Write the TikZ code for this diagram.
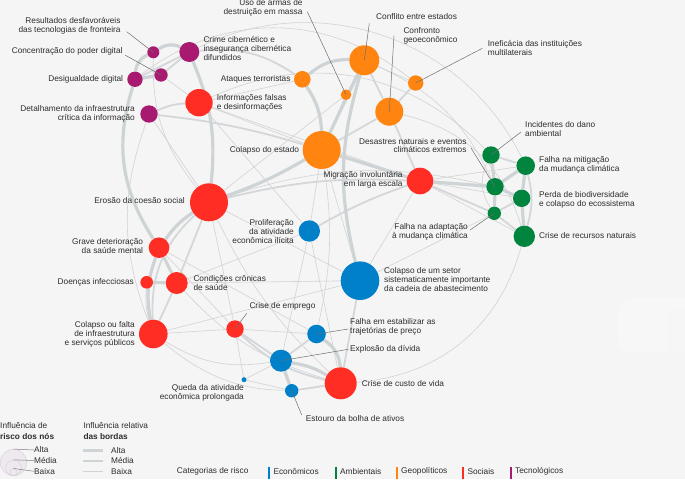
\documentclass[tikz,border=0pt]{standalone}
\usepackage{fontspec}
\setmainfont{Liberation Sans}
\pgfdeclarelayer{bg}
\pgfdeclarelayer{edges}
\pgfsetlayers{bg,edges,main}
\definecolor{bgc}{RGB}{245,245,245}
\definecolor{wmk}{RGB}{247,247,247}
\definecolor{tec}{RGB}{168,26,112}
\definecolor{soc}{RGB}{255,45,35}
\definecolor{geo}{RGB}{255,132,16}
\definecolor{eco}{RGB}{0,128,201}
\definecolor{env}{RGB}{0,132,62}
\definecolor{edgeA}{RGB}{206,211,214}
\definecolor{edgeB}{RGB}{212,215,218}
\definecolor{edgeC}{RGB}{210,210,210}
\definecolor{leadc}{RGB}{110,110,110}
\definecolor{txt}{RGB}{45,45,45}
\newcommand\lf{\fontsize{8.3}{8.9}\selectfont}
\tikzset{
  nd/.style={circle, inner sep=0pt, draw=none},
  ethick/.style={draw=edgeA, line width=3.2pt},
  emed/.style={draw=edgeB, line width=1.8pt},
  ethin/.style={draw=edgeC, line width=0.6pt},
  leader/.style={draw=leadc, line width=0.5pt},
  lbl/.style={font=\lf, text=txt, inner sep=0pt},
  lgline/.style={draw=edgeA},
  catbar/.style={line width=2.3pt},
}
\begin{document}
\begin{tikzpicture}[x=1pt,y=-1pt]
\useasboundingbox (0,0) rectangle (685,479);
\begin{pgfonlayer}{bg}
\fill[bgc] (0,0) rectangle (685,479);
\begin{scope}
\clip (0,0) rectangle (685,479);
\fill[wmk, rounded corners=14pt] (618,298) rectangle (700,353);
\fill[bgc!60!wmk] (666.7,309) rectangle (690,353);
\end{scope}
\end{pgfonlayer}

% ---------- nodes ----------
% technological
\node[nd, fill=tec, minimum size=12pt]   (res) at (153.3,52.3) {};
\node[nd, fill=tec, minimum size=20pt]   (cri) at (189.3,52) {};
\node[nd, fill=tec, minimum size=13.4pt] (con) at (161,75) {};
\node[nd, fill=tec, minimum size=15.4pt] (des) at (135,79.3) {};
\node[nd, fill=tec, minimum size=17.4pt] (det) at (149,114) {};
% social
\node[nd, fill=soc, minimum size=27.4pt] (inf) at (199,102.7) {};
\node[nd, fill=soc, minimum size=38pt]   (ero) at (209,202.3) {};
\node[nd, fill=soc, minimum size=20.6pt] (gra) at (159,247.7) {};
\node[nd, fill=soc, minimum size=12.6pt] (doe) at (146.7,282.3) {};
\node[nd, fill=soc, minimum size=22pt]   (cond) at (176.7,283) {};
\node[nd, fill=soc, minimum size=28.6pt] (colf) at (153.3,334) {};
\node[nd, fill=soc, minimum size=17.4pt] (emp) at (235,329) {};
\node[nd, fill=soc, minimum size=32pt]   (cus) at (340.7,383.3) {};
\node[nd, fill=soc, minimum size=26.6pt] (mig) at (420,181) {};
% geopolitical
\node[nd, fill=geo, minimum size=30pt]   (cnf) at (364.3,60.3) {};
\node[nd, fill=geo, minimum size=16.6pt] (ata) at (302.3,79.3) {};
\node[nd, fill=geo, minimum size=10.6pt] (uso) at (346,94.7) {};
\node[nd, fill=geo, minimum size=15.4pt] (ine) at (415.7,83) {};
\node[nd, fill=geo, minimum size=28pt]   (cge) at (389.3,111.7) {};
\node[nd, fill=geo, minimum size=38pt]   (cest) at (321.7,150) {};
% economic
\node[nd, fill=eco, minimum size=21.4pt] (pro) at (309.3,231) {};
\node[nd, fill=eco, minimum size=38.6pt] (cset) at (360,280.7) {};
\node[nd, fill=eco, minimum size=18.6pt] (fes) at (316.5,334) {};
\node[nd, fill=eco, minimum size=22pt]   (exp) at (281,360.7) {};
\node[nd, fill=eco, minimum size=5pt]    (que) at (244,379.7) {};
\node[nd, fill=eco, minimum size=13.4pt] (est) at (291.7,390.7) {};
% environmental
\node[nd, fill=env, minimum size=17.4pt] (inc) at (491,155) {};
\node[nd, fill=env, minimum size=18.6pt] (fmi) at (525.7,165.7) {};
\node[nd, fill=env, minimum size=17.4pt] (dna) at (495,186.7) {};
\node[nd, fill=env, minimum size=17.4pt] (per) at (521.7,198.3) {};
\node[nd, fill=env, minimum size=13.4pt] (fad) at (494.3,213.3) {};
\node[nd, fill=env, minimum size=21.4pt] (rec) at (524.3,236.3) {};

% ---------- edges ----------
\begin{pgfonlayer}{edges}
% thin
\draw[ethin] (cri) to[bend left=45] (fmi);
\draw[ethin] (inf) to[bend left=35] (inc);
\draw[ethin] (des) to[bend left=38] (ine);
\draw[ethin] (inf) -- (mig);
\draw[ethin] (inf) -- (cest);
\draw[ethin] (inf) -- (pro);
\draw[ethin] (ata) -- (inf);
\draw[ethin] (uso) -- (cnf);
\draw[ethin] (uso) -- (cest);
\draw[ethin] (uso) -- (ero);
\draw[ethin] (cnf) -- (ine);
\draw[ethin] (cnf) to[bend left=20] (dna);
\draw[ethin] (cge) to[bend left=30] (rec);
\draw[ethin] (cset) -- (mig);
\draw[ethin] (cus) to[bend right=35] (rec);
\draw[ethin] (cond) -- (cset);
\draw[ethin] (colf) -- (cset);
\draw[ethin] (colf) to[bend right=20] (exp);
\draw[ethin] (colf) to[bend right=25] (cus);
\draw[ethin] (colf) -- (emp);
\draw[ethin] (gra) -- (fes);
\draw[ethin] (pro) -- (cus);
\draw[ethin] (pro) -- (exp);
\draw[ethin] (ero) -- (cset);
\draw[ethin] (cest) -- (pro);
\draw[ethin] (cest) -- (cset);
\draw[ethin] (emp) -- (que);
\draw[ethin] (que) -- (exp);
\draw[ethin] (que) -- (est);
\draw[ethin] (doe) -- (gra);
\draw[ethin] (doe) to[bend right=10] (colf);
\draw[ethin] (ero) -- (emp);
\draw[ethin] (emp) -- (fes);
\draw[ethin] (det) -- (ero);
\draw[ethin] (det) to[bend right=20] (colf);
\draw[ethin] (mig) -- (rec);
\draw[ethin] (mig) -- (fmi);
\draw[ethin] (mig) -- (per);
\draw[ethin] (cset) -- (fad);
\draw[ethin] (ero) to[bend left=15] (dna);
\draw[ethin] (gra) -- (emp);
\draw[ethin] (cond) to[bend right=15] (cus);
\draw[ethin] (inc) to[bend right=30] (fad);
\draw[ethin] (res) to[bend right=20] (ero);
\draw[ethin] (con) -- (inf);
\draw[ethin] (cond) -- (pro);
\draw[ethin] (cest) to[bend left=10] (fes);
\draw[ethin] (ero) to[bend right=10] (cus);
% medium
\draw[emed] (cri) to[bend left=20] (ata);
\draw[emed] (cge) -- (cest);
\draw[emed] (cge) -- (cnf);
\draw[emed] (ine) -- (cge);
\draw[emed] (ero) to[bend left=8] (mig);
\draw[emed] (pro) to[bend left=5] (mig);
\draw[emed] (cset) -- (cus);
\draw[emed] (emp) -- (exp);
\draw[emed] (emp) to[bend right=15] (cus);
\draw[emed] (colf) -- (cond);
\draw[emed] (cond) -- (ero);
\draw[emed] (mig) -- (fad);
\draw[emed] (cge) -- (mig);
\draw[emed] (est) -- (cus);
\draw[emed] (exp) -- (fes);
\draw[emed] (det) to[bend left=5] (cest);
\draw[emed] (det) to[bend left=10] (inf);
\draw[emed] (fmi) to[bend left=15] (rec);
\draw[emed] (fad) -- (rec);
\draw[emed] (inc) -- (fmi);
\draw[emed] (fad) -- (per);
\draw[emed] (ero) to[bend right=25] (colf);
\draw[emed] (des) -- (cri);
\draw[emed] (con) -- (cri);
% thick
\draw[ethick] (cri) to[bend left=14] (ero);
\draw[ethick] (des) to[bend right=25] (gra);
\draw[ethick] (gra) to[bend right=15] (colf);
\draw[ethick] (ero) to[bend right=10] (gra);
\draw[ethick] (gra) -- (cond);
\draw[ethick] (doe) -- (cond);
\draw[ethick] (des) -- (con);
\draw[ethick] (res) to[bend right=30] (des);
\draw[ethick] (res) to[bend left=30] (cri);
\draw[ethick] (cest) to[bend left=5] (ero);
\draw[ethick] (cest) -- (cnf);
\draw[ethick] (ata) to[bend left=20] (cnf);
\draw[ethick] (ata) to[bend left=15] (cest);
\draw[ethick] (cnf) to[bend right=15] (cset);
\draw[ethick] (cest) -- (mig);
\draw[ethick] (mig) -- (dna);
\draw[ethick] (fes) to[bend left=25] (cus);
\draw[ethick] (exp) to[bend left=10] (cus);
\draw[ethick] (exp) -- (est);
\draw[ethick] (inc) -- (dna);
\draw[ethick] (dna) -- (fmi);
\draw[ethick] (dna) -- (per);
\draw[ethick] (fmi) -- (per);
\draw[ethick] (per) -- (rec);
\draw[ethick] (fad) -- (dna);
\end{pgfonlayer}

% ---------- labels ----------
\node[lbl, anchor=east, align=right] (Lres) at (120.7,25.8) {Resultados desfavoráveis\\das tecnologias de fronteira};
\node[lbl, anchor=east] (Lcon) at (122.7,51.7) {Concentração do poder digital};
\node[lbl, anchor=east] (Ldes) at (123.3,79) {Desigualdade digital};
\node[lbl, anchor=east, align=right] (Ldet) at (135,113.7) {Detalhamento da infraestrutura\\crítica da informação};
\node[lbl, anchor=west, align=left] (Lcri) at (203.3,48.7) {Crime cibernético e\\insegurança cibernética\\difundidos};
\node[lbl, anchor=west, align=left] (Linf) at (216.7,102.8) {Informações falsas\\e desinformações};
\node[lbl, anchor=east, align=right] (Luso) at (302.7,7.8) {Uso de armas de\\destruição em massa};
\node[lbl, anchor=west] (Lcnf) at (376,16.7) {Conflito entre estados};
\node[lbl, anchor=west, align=left] (Lcge) at (403.3,35.5) {Confronto\\geoeconômico};
\node[lbl, anchor=west, align=left] (Line) at (487.7,47.7) {Ineficácia das instituições\\multilaterais};
\node[lbl, anchor=east] (Lata) at (290.7,79.3) {Ataques terroristas};
\node[lbl, anchor=east] (Lcest) at (299.3,150) {Colapso do estado};
\node[lbl, anchor=east, align=right] (Ldna) at (466.7,145.5) {Desastres naturais e eventos\\climáticos extremos};
\node[lbl, anchor=east, align=right] (Lmig) at (402.7,180) {Migração involuntária\\em larga escala};
\node[lbl, anchor=west, align=left] (Linc) at (525,129.3) {Incidentes do dano\\ambiental};
\node[lbl, anchor=west, align=left] (Lfmi) at (539,165) {Falha na mitigação\\da mudança climática};
\node[lbl, anchor=west, align=left] (Lper) at (539,200) {Perda de biodiversidade\\e colapso do ecossistema};
\node[lbl, anchor=west] (Lrec) at (539,236) {Crise de recursos naturais};
\node[lbl, anchor=east, align=right] (Lfad) at (468,231.5) {Falha na adaptação\\à mudança climática};
\node[lbl, anchor=east] (Lero) at (185,201) {Erosão da coesão social};
\node[lbl, anchor=east, align=right] (Lgra) at (143.3,246.2) {Grave deterioração\\da saúde mental};
\node[lbl, anchor=east] (Ldoe) at (134,282) {Doenças infecciosas};
\node[lbl, anchor=west, align=left] (Lcond) at (193.3,283) {Condições crônicas\\de saúde};
\node[lbl, anchor=east, align=right] (Lcolf) at (135,334) {Colapso ou falta\\de infraestrutura\\e serviços públicos};
\node[lbl, anchor=east, align=right] (Lpro) at (294,231.3) {Proliferação\\da atividade\\econômica ilícita};
\node[lbl, anchor=west, align=left] (Lcset) at (384,279.3) {Colapso de um setor\\sistematicamente importante\\da cadeia de abastecimento};
\node[lbl, anchor=west] (Lemp) at (249.3,306.7) {Crise de emprego};
\node[lbl, anchor=west, align=left] (Lfes) at (350,326.7) {Falha em estabilizar as\\trajetórias de preço};
\node[lbl, anchor=west] (Lexp) at (350,349) {Explosão da dívida};
\node[lbl, anchor=east, align=right] (Lque) at (244,392.5) {Queda da atividade\\econômica prolongada};
\node[lbl, anchor=west] (Lcus) at (361.7,384) {Crise de custo de vida};
\node[lbl, anchor=west] (Lest) at (305.7,418.3) {Estouro da bolha de ativos};

% ---------- leader lines ----------
\coordinate (pres) at (126.7,31.7);
\coordinate (pcon) at (125,55);
\coordinate (puso) at (307.3,11.7);
\coordinate (pcnf) at (369.3,23.3);
\coordinate (pcge) at (394,35.7);
\coordinate (pine) at (482.3,48.3);
\coordinate (pdna) at (471,148);
\coordinate (pinc) at (521,132);
\coordinate (pfad) at (470,230);
\coordinate (pemp) at (246.7,313.3);
\coordinate (pfes) at (348.3,329);
\coordinate (pexp) at (348.3,349.3);
\coordinate (pest) at (301.7,415);
\draw[leader] (pres) -- (res.center);
\draw[leader] (pcon) -- (con.center);
\draw[leader] (puso) -- (uso.center);
\draw[leader] (pcnf) -- (cnf.center);
\draw[leader] (pcge) -- (cge.center);
\draw[leader] (pine) -- (ine.center);
\draw[leader] (pdna) -- (dna.center);
\draw[leader] (pinc) -- (inc.center);
\draw[leader] (pfad) -- (fad.center);
\draw[leader] (pemp) -- (emp.center);
\draw[leader] (pfes) -- (fes.center);
\draw[leader] (pexp) -- (exp.center);
\draw[leader] (pest) -- (est.center);

% ---------- legend: node influence ----------
\node[lbl, anchor=west] (lgA) at (0,426) {Influência de};
\node[lbl, anchor=west, font=\lf\bfseries] (lgB) at (0,436.3) {risco dos nós};
\node[circle, inner sep=0pt, minimum size=26.4pt, draw={rgb,255:red,215;green,210;blue,215}, fill={rgb,255:red,238;green,233;blue,238}, line width=0.5pt] (lc1) at (13.5,462.5) {};
\node[circle, inner sep=0pt, minimum size=15.6pt, draw={rgb,255:red,215;green,210;blue,215}, line width=0.5pt] (lc2) at (13.5,467.9) {};
\node[circle, inner sep=0pt, minimum size=7pt, draw={rgb,255:red,215;green,210;blue,215}, line width=0.5pt] (lc3) at (13.5,472.2) {};
\node[lbl, anchor=west] (la1) at (34,450) {Alta};
\node[lbl, anchor=west] (la2) at (34,460.5) {Média};
\node[lbl, anchor=west] (la3) at (34,471.3) {Baixa};
\draw[leader, draw=gray] (lc1.north) -- (la1.west);
\draw[leader, draw=gray] (lc2.north) -- (la2.west);
\draw[leader, draw=gray] (lc3.north) -- (la3.west);

% ---------- legend: edge influence ----------
\node[lbl, anchor=west] (leA) at (83.3,426) {Influência relativa};
\node[lbl, anchor=west, font=\lf\bfseries] (leB) at (83.3,436.3) {das bordas};
\node[lbl, anchor=west] (le1) at (111,450.5) {Alta};
\node[lbl, anchor=west] (le2) at (111,460.5) {Média};
\node[lbl, anchor=west] (le3) at (111,471.3) {Baixa};
\coordinate (ls1) at (83.3,450.8);
\coordinate (ls2) at (83.3,460.7);
\coordinate (ls3) at (83.3,471);
\coordinate (le1e) at (103.3,450.8);
\coordinate (le2e) at (103.3,460.7);
\coordinate (le3e) at (103.3,471);
\draw[lgline, line width=3pt] (ls1) -- (le1e);
\draw[lgline, line width=1.9pt] (ls2) -- (le2e);
\draw[lgline, line width=0.7pt] (ls3) -- (le3e);

% ---------- legend: categories ----------
\node[lbl, anchor=west] (cat) at (176.7,471.3) {Categorias de risco};
\draw[catbar, eco] (269.3,466.5) -- (269.3,479);
\node[lbl, anchor=west] (c1) at (273.3,471.3) {Econômicos};
\draw[catbar, env] (335.7,466.5) -- (335.7,479);
\node[lbl, anchor=west] (c2) at (340,471.3) {Ambientais};
\draw[catbar, geo] (396.7,466.5) -- (396.7,479);
\node[lbl, anchor=west] (c3) at (401,471.3) {Geopolíticos};
\draw[catbar, soc] (463.3,466.5) -- (463.3,479);
\node[lbl, anchor=west] (c4) at (467.3,471.3) {Sociais};
\draw[catbar, tec] (511,466.5) -- (511,479);
\node[lbl, anchor=west] (c5) at (515,471.3) {Tecnológicos};
\end{tikzpicture}
\end{document}
